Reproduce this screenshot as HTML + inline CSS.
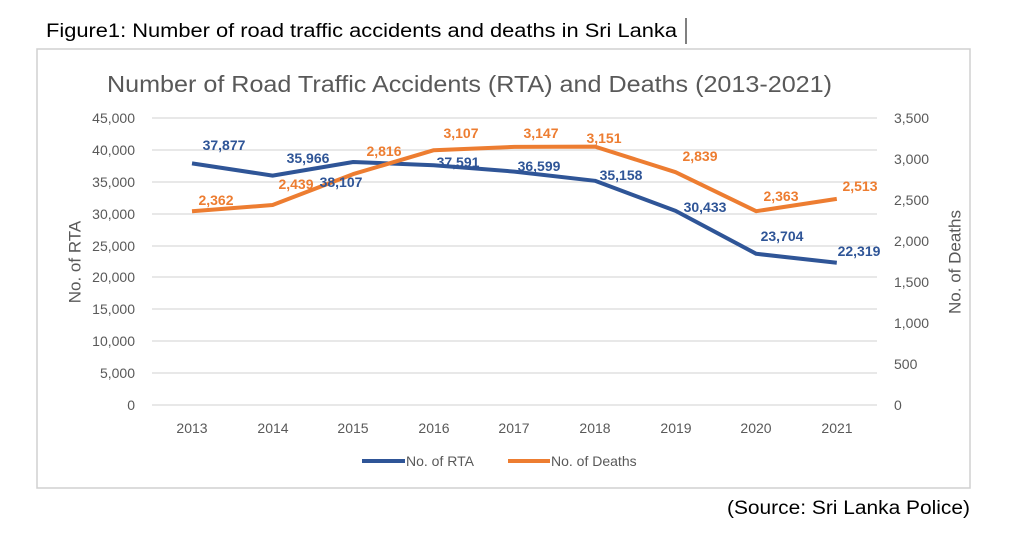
<!DOCTYPE html>
<html><head><meta charset="utf-8"><style>body{margin:0;background:#fff}svg{display:block}</style></head><body>
<svg width="1012" height="545" xmlns="http://www.w3.org/2000/svg" font-family="Liberation Sans, sans-serif">
<rect width="1012" height="545" fill="#fff"/>
<text x="46" y="37" font-size="19" fill="#000" textLength="631" lengthAdjust="spacingAndGlyphs">Figure1: Number of road traffic accidents and deaths in Sri Lanka</text>
<line x1="686" y1="18" x2="686" y2="44" stroke="#000" stroke-width="1"/>
<rect x="37" y="49" width="933" height="439" fill="#fff" stroke="#d0d0d0" stroke-width="1.5"/>
<text x="107" y="92" font-size="23" fill="#595959" textLength="725" lengthAdjust="spacingAndGlyphs">Number of Road Traffic Accidents (RTA) and Deaths (2013-2021)</text>
<g stroke="#d9d9d9" stroke-width="1.3">
<line x1="152" x2="877" y1="118" y2="118"/><line x1="152" x2="877" y1="150" y2="150"/><line x1="152" x2="877" y1="182" y2="182"/><line x1="152" x2="877" y1="214" y2="214"/><line x1="152" x2="877" y1="246" y2="246"/><line x1="152" x2="877" y1="277" y2="277"/><line x1="152" x2="877" y1="309" y2="309"/><line x1="152" x2="877" y1="341" y2="341"/><line x1="152" x2="877" y1="373" y2="373"/><line x1="152" x2="877" y1="405" y2="405"/>
</g>
<g font-size="14" fill="#595959" text-anchor="end" dominant-baseline="central">
<text x="135" y="118">45,000</text><text x="135" y="150">40,000</text><text x="135" y="182">35,000</text><text x="135" y="214">30,000</text><text x="135" y="246">25,000</text><text x="135" y="277">20,000</text><text x="135" y="309">15,000</text><text x="135" y="341">10,000</text><text x="135" y="373">5,000</text><text x="135" y="405">0</text>
</g>
<g font-size="14" fill="#595959" text-anchor="start" dominant-baseline="central">
<text x="894" y="118">3,500</text><text x="894" y="159">3,000</text><text x="894" y="200">2,500</text><text x="894" y="241">2,000</text><text x="894" y="282">1,500</text><text x="894" y="323">1,000</text><text x="894" y="364">500</text><text x="894" y="405">0</text>
</g>
<g font-size="14" fill="#595959" text-anchor="middle" dominant-baseline="central">
<text x="192" y="428">2013</text><text x="273" y="428">2014</text><text x="353" y="428">2015</text><text x="434" y="428">2016</text><text x="514" y="428">2017</text><text x="595" y="428">2018</text><text x="676" y="428">2019</text><text x="756" y="428">2020</text><text x="837" y="428">2021</text>
</g>
<text transform="translate(75,262) rotate(-90)" font-size="17" fill="#595959" text-anchor="middle" dominant-baseline="central">No. of RTA</text>
<text transform="translate(955,262) rotate(-90)" font-size="17" fill="#595959" text-anchor="middle" dominant-baseline="central">No. of Deaths</text>
<polyline fill="none" stroke="#2f5597" stroke-width="4" stroke-linejoin="round" points="192,163.4 272.6,175.6 353.2,162 433.8,165.3 514.4,171.6 595,180.8 675.6,210.9 756.2,253.8 836.8,262.7"/>
<polyline fill="none" stroke="#ed7d31" stroke-width="4" stroke-linejoin="round" points="192,211.3 272.6,205 353.2,174.1 433.8,150.2 514.4,146.9 595,146.6 675.6,172.2 756.2,211.2 836.8,198.9"/>
<g font-size="14" font-weight="bold" fill="#2f5597" text-anchor="middle" dominant-baseline="central">
<text x="224" y="145">37,877</text><text x="308" y="158">35,966</text><text x="341" y="182">38,107</text><text x="458" y="162">37,591</text><text x="539" y="166">36,599</text><text x="621" y="175">35,158</text><text x="705" y="207">30,433</text><text x="782" y="236">23,704</text><text x="859" y="251">22,319</text>
</g>
<g font-size="14" font-weight="bold" fill="#ed7d31" text-anchor="middle" dominant-baseline="central">
<text x="216" y="200">2,362</text><text x="296" y="184">2,439</text><text x="384" y="151">2,816</text><text x="461" y="133">3,107</text><text x="541" y="133">3,147</text><text x="604" y="138">3,151</text><text x="700" y="156">2,839</text><text x="781" y="196">2,363</text><text x="860" y="186">2,513</text>
</g>
<line x1="362" x2="405" y1="461" y2="461" stroke="#2f5597" stroke-width="4"/>
<text x="406" y="461" font-size="14" fill="#595959" dominant-baseline="central">No. of RTA</text>
<line x1="508" x2="550" y1="461" y2="461" stroke="#ed7d31" stroke-width="4"/>
<text x="551" y="461" font-size="14" fill="#595959" dominant-baseline="central">No. of Deaths</text>
<text x="727" y="514" font-size="19" fill="#000" textLength="243" lengthAdjust="spacingAndGlyphs">(Source: Sri Lanka Police)</text>
</svg>
</body></html>
